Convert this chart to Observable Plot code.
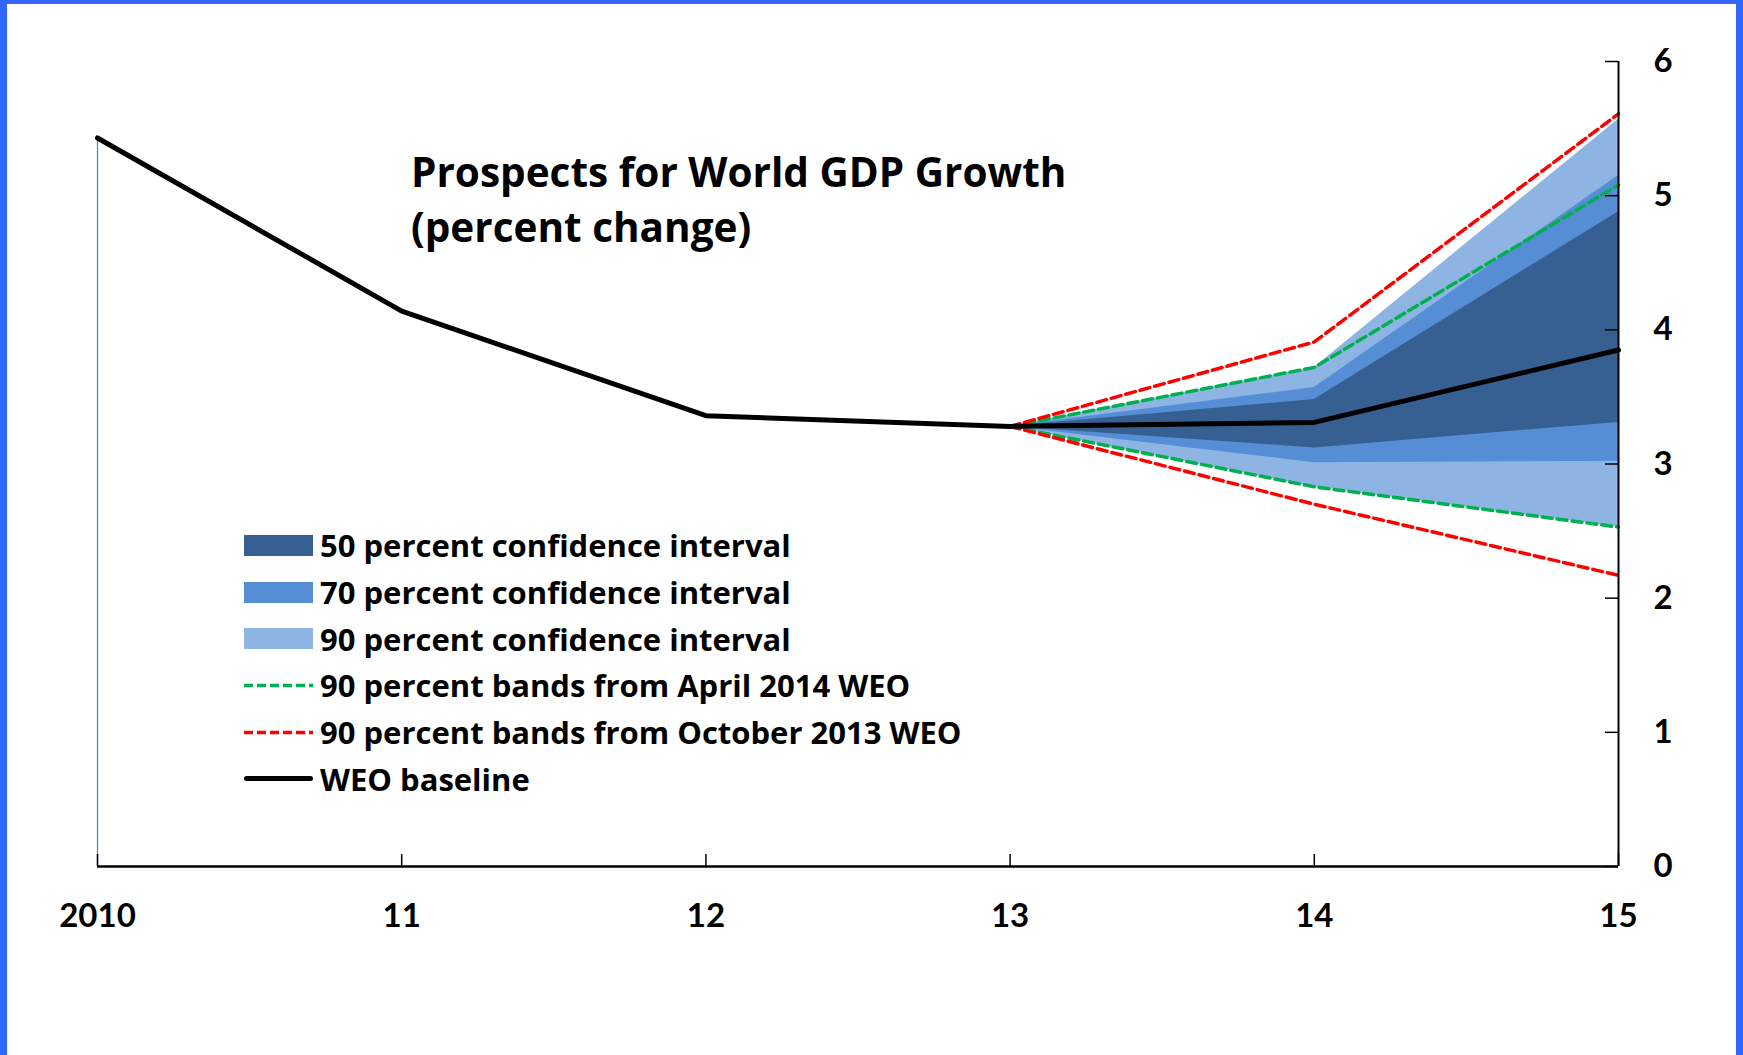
<!DOCTYPE html>
<html>
<head>
<meta charset="utf-8">
<script src="https://cdn.jsdelivr.net/npm/d3@7"></script>
<script src="https://cdn.jsdelivr.net/npm/@observablehq/plot@0.6"></script>
<style>
  html, body { margin: 0; padding: 0; background: white; }
  #page {
    position: relative; width: 1743px; height: 1055px; box-sizing: border-box;
    border-left: 7px solid #3366FF; border-right: 7px solid #3366FF; border-top: 4px solid #3366FF;
    background: white; overflow: hidden;
    font-family: "Open Sans", Lato, sans-serif; font-weight: bold; color: black;
  }
  #chart { position: absolute; left: 0; top: 0; }
  #title { position: absolute; left: 404px; top: 139.5px; font-size: 40.5px; line-height: 55px; white-space: nowrap; }
  #legend { position: absolute; left: 237px; top: 518px; }
  .row { display: flex; align-items: center; height: 46.7px; font-size: 31px; white-space: nowrap; }
  .row svg { display: block; flex: none; }
  .row span { margin-left: 7px; }
</style>
</head>
<body>
<div id="page">
  <div id="chart"></div>
  <div id="title"></div>
  <div id="legend"></div>
</div>
<script>
// ---- data ----
const years = [2010, 2011, 2012, 2013, 2014, 2015];
const baseline = [5.43, 4.14, 3.36, 3.28, 3.31, 3.85];

const fanYears = [2013, 2014, 2015];
const ci50Low  = [3.28, 3.12, 3.31];
const ci50High = [3.28, 3.48, 4.88];
const ci70Low  = [3.28, 3.01, 3.02];
const ci70High = [3.28, 3.57, 5.15];
const ci90Low  = [3.28, 2.83, 2.53];
const ci90High = [3.28, 3.72, 5.57];
const apr2014Low  = [3.28, 2.83, 2.53];
const apr2014High = [3.28, 3.72, 5.08];
const oct2013Low  = [3.28, 2.70, 2.17];
const oct2013High = [3.28, 3.91, 5.61];

const xTicks = [2010, 2011, 2012, 2013, 2014, 2015];
const xTickLabels = ["2010", "11", "12", "13", "14", "15"];
const yTicks = [0, 1, 2, 3, 4, 5, 6];
const yTickLabels = ["0", "1", "2", "3", "4", "5", "6"];

const titleLines = ["Prospects for World GDP Growth", "(percent change)"];
const legendLabels = [
  "50 percent confidence interval",
  "70 percent confidence interval",
  "90 percent confidence interval",
  "90 percent bands from April 2014 WEO",
  "90 percent bands from October 2013 WEO",
  "WEO baseline"
];

// ---- styles ----
const C50 = "#376092", C70 = "#558ED5", C90 = "#8EB4E3";
const GREEN = "#00B050", RED = "#FF0000";

const W = 1729, H = 1051;
const mL = 90, mR = 118, mT = 57, mB = 189;
const plotW = W - mL - mR, plotH = H - mT - mB;
const tickLen = 12;

const fan = fanYears.map((x, i) => ({
  x,
  lo50: ci50Low[i], hi50: ci50High[i],
  lo70: ci70Low[i], hi70: ci70High[i],
  lo90: ci90Low[i], hi90: ci90High[i],
  aLo: apr2014Low[i], aHi: apr2014High[i],
  oLo: oct2013Low[i], oHi: oct2013High[i]
}));
const base = years.map((x, i) => ({x, y: baseline[i]}));

const dash = {strokeWidth: 3.5, strokeDasharray: "10,5"};

const chart = Plot.plot({
  width: W, height: H,
  marginLeft: mL, marginRight: mR, marginTop: mT, marginBottom: mB,
  style: {background: "transparent", fontFamily: "Lato, 'Open Sans', sans-serif", color: "black"},
  x: {domain: [xTicks[0], xTicks[xTicks.length - 1]]},
  y: {domain: [yTicks[0], yTicks[yTicks.length - 1]]},
  marks: [
    Plot.areaY(fan, {x: "x", y1: "lo90", y2: "hi90", fill: C90}),
    Plot.areaY(fan, {x: "x", y1: "lo70", y2: "hi70", fill: C70}),
    Plot.areaY(fan, {x: "x", y1: "lo50", y2: "hi50", fill: C50}),
    Plot.ruleX([years[0]], {y1: yTicks[0], y2: baseline[0], stroke: "#4F81BD", strokeWidth: 1.2}),
    Plot.lineY(fan, {x: "x", y: "aHi", stroke: GREEN, ...dash}),
    Plot.lineY(fan, {x: "x", y: "aLo", stroke: GREEN, ...dash}),
    Plot.lineY(fan, {x: "x", y: "oHi", stroke: RED, ...dash}),
    Plot.lineY(fan, {x: "x", y: "oLo", stroke: RED, ...dash}),
    Plot.lineY(base, {x: "x", y: "y", stroke: "black", strokeWidth: 5}),
    Plot.ruleY([yTicks[0]], {stroke: "black", strokeWidth: 2.5}),
    Plot.ruleX([xTicks[xTicks.length - 1]], {y1: yTicks[0], y2: yTicks[yTicks.length - 1], stroke: "black", strokeWidth: 2}),
    Plot.tickX(xTicks, {x: d => d, insetTop: plotH - tickLen, stroke: "black", strokeWidth: 1.5}),
    Plot.tickY(yTicks, {y: d => d, insetLeft: plotW - tickLen - 1, stroke: "black", strokeWidth: 1.5}),
    Plot.axisX({ticks: xTicks, tickFormat: (d) => xTickLabels[xTicks.indexOf(d)], tickSize: 0, tickPadding: 37,
      fontSize: 33, fontWeight: "bold", fill: "black", label: null}),
    Plot.axisY({anchor: "right", ticks: yTicks, tickFormat: (d) => yTickLabels[yTicks.indexOf(d)], tickSize: 0, tickPadding: 35,
      fontSize: 33, fontWeight: "bold", fill: "black", label: null})
  ]
});
document.getElementById("chart").appendChild(chart);

// ---- title ----
const title = document.getElementById("title");
titleLines.forEach(t => { const d = document.createElement("div"); d.textContent = t; title.appendChild(d); });

// ---- legend ----
const legend = document.getElementById("legend");
const sw = 69, sh = 21;
const legendKinds = [
  {type: "rect", color: C50}, {type: "rect", color: C70}, {type: "rect", color: C90},
  {type: "dash", color: GREEN}, {type: "dash", color: RED}, {type: "solid", color: "black"}
];
legendLabels.forEach((lab, i) => {
  const k = legendKinds[i];
  const row = document.createElement("div");
  row.className = "row";
  let g;
  if (k.type === "rect") g = `<rect x="0" y="0" width="${sw}" height="${sh}" fill="${k.color}"/>`;
  else if (k.type === "dash") g = `<line x1="0" x2="${sw}" y1="${sh / 2}" y2="${sh / 2}" stroke="${k.color}" stroke-width="3.5" stroke-dasharray="9,4"/>`;
  else g = `<line x1="2.5" x2="${sw - 2.5}" y1="${sh / 2}" y2="${sh / 2}" stroke="${k.color}" stroke-width="5" stroke-linecap="round"/>`;
  row.innerHTML = `<svg width="${sw}" height="${sh}">${g}</svg><span>${lab}</span>`;
  legend.appendChild(row);
});
</script>
</body>
</html>
